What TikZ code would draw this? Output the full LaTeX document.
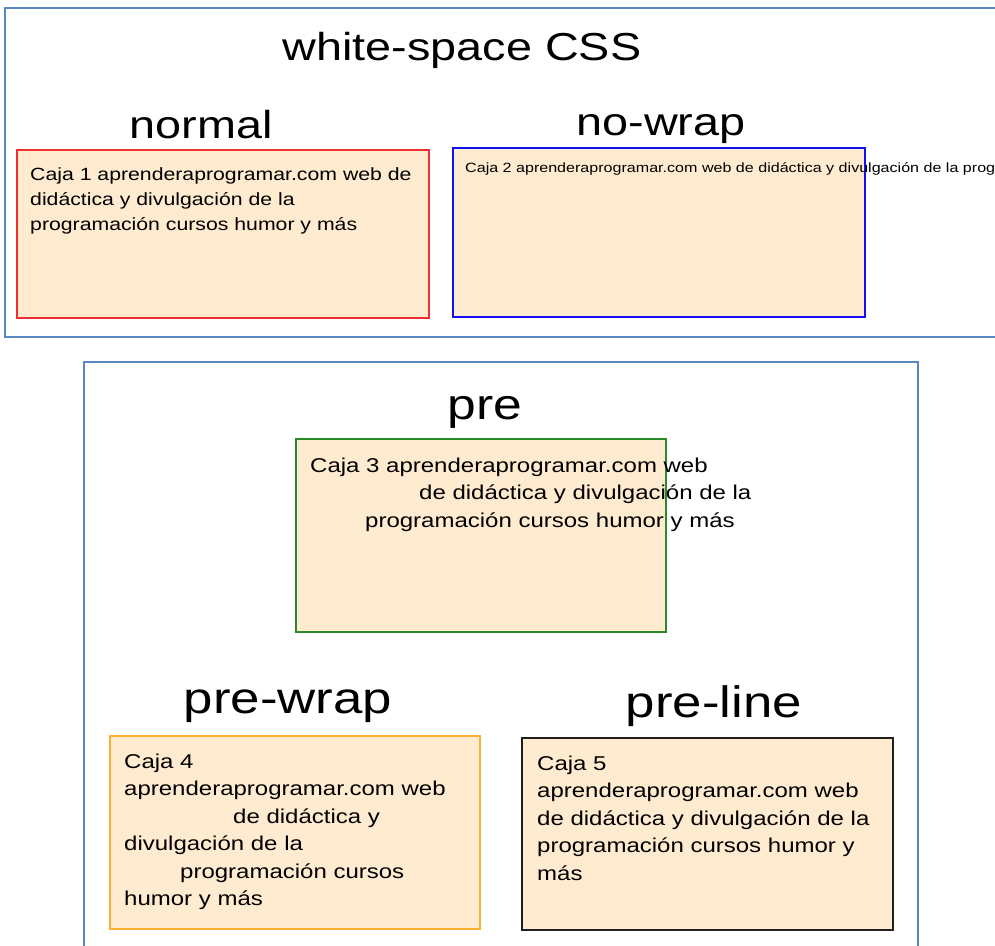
\documentclass[tikz,border=0pt]{standalone}
\usepackage{fontspec}
\setmainfont{Liberation Sans}[FakeStretch=1.2]
\definecolor{cajafill}{HTML}{FFEBCF}
\definecolor{marcoazul}{HTML}{5A86C0}
\definecolor{rojo}{HTML}{F03030}
\definecolor{azul}{HTML}{1010F0}
\definecolor{verde}{HTML}{2A8A2A}
\definecolor{naranja}{HTML}{FFB030}
\definecolor{negro}{HTML}{202020}

\begin{document}
\begin{tikzpicture}[x=1pt,y=-1pt,
  marco/.style={draw=marcoazul,line width=2pt},
  caja/.style={fill=cajafill,line width=1.3pt},
  titulo/.style={anchor=base,inner sep=0pt,font=\fontsize{39}{47}\selectfont},
  titulogr/.style={titulo,font=\fontsize{44}{52}\selectfont},
  texto/.style={anchor=north west,inner sep=0pt,align=left},
  textogr/.style={texto,font=\fontsize{20}{27.5}\selectfont}]
\clip (0,0) rectangle (995,945);
\fill[white] (0,0) rectangle (995,945);

\draw[marco] (5,8) rectangle (1010,337); % upper frame
\draw[marco] (84,362) rectangle (918,960); % lower frame

\draw[caja,draw=rojo] (17,150) rectangle (429,318); % caja 1
\draw[caja,draw=azul] (453,148) rectangle (865,317); % caja 2
\draw[caja,draw=verde] (296,439) rectangle (666,632); % caja 3
\draw[caja,draw=naranja] (110,736) rectangle (480,929); % caja 4
\draw[caja,draw=negro] (522,738) rectangle (893,930); % caja 5

\node[titulo] (titulo) at (462,60) {white-space CSS};
\node[titulo] (normal) at (201,138) {normal};
\node[titulo] (nowrap) at (661,135) {no-wrap};
\node[titulogr,font=\fontsize{43}{50}\selectfont] (pre) at (485,419) {pre};
\node[titulogr] (prewrap) at (288,713) {pre-wrap};
\node[titulogr] (preline) at (714,717) {pre-line};

\node[texto,font=\fontsize{17.7}{25}\selectfont] (caja1) at (30,162.5)
  {\strut Caja 1 aprenderaprogramar.com web de\\
   didáctica y divulgación de la\\
   programación cursos humor y más};
\node[texto,font=\fontsize{13.4}{16}\selectfont] (caja2) at (465,160.8)
  {\strut Caja 2 aprenderaprogramar.com web de didáctica y divulgación de la programación cursos humor y más};
\node[textogr] (caja3) at (310,452.75)
  {\strut Caja 3 aprenderaprogramar.com web\\
   \hspace*{109pt}de didáctica y divulgación de la\\
   \hspace*{55pt}programación cursos humor y más};
\node[textogr] (caja4) at (124,748.75)
  {\strut Caja 4\\
   aprenderaprogramar.com web\\
   \hspace*{109pt}de didáctica y\\
   divulgación de la\\
   \hspace*{56pt}programación cursos\\
   humor y más};
\node[textogr] (caja5) at (537,750.75)
  {\strut Caja 5\\
   aprenderaprogramar.com web\\
   de didáctica y divulgación de la\\
   programación cursos humor y\\
   más};
\end{tikzpicture}
\end{document}
